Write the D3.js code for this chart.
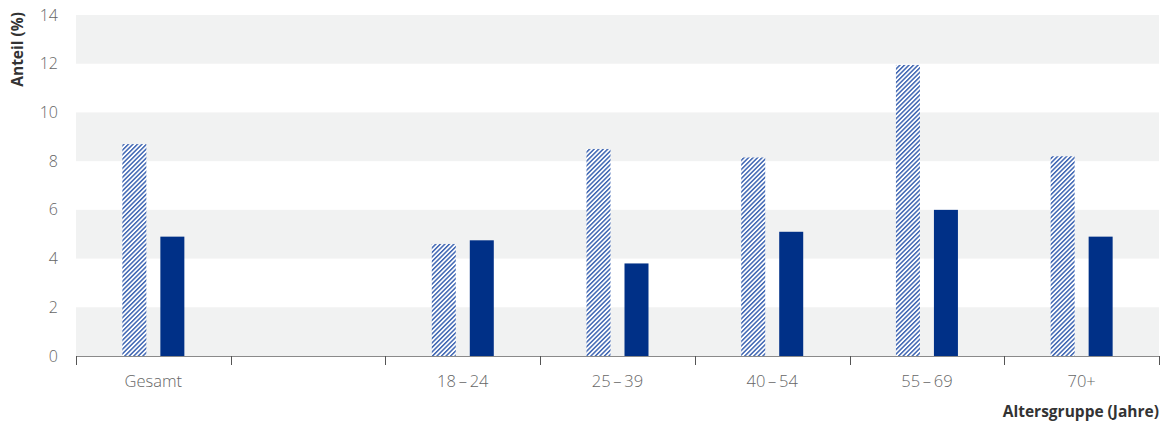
<!DOCTYPE html>
<html><head><meta charset="utf-8">
<script src="https://cdn.jsdelivr.net/npm/d3@7"></script>
<style>body{margin:0;background:#fff;} text{font-family:"Open Sans",Lato,sans-serif;}</style>
</head><body><svg id="c" width="1170" height="425"></svg>
<script>
const categories = ["Gesamt", "", "18\u2009–\u200924", "25\u2009–\u200939", "40\u2009–\u200954", "55\u2009–\u200969", "70+"];
const seriesA = [8.7, null, 4.6, 8.5, 8.15, 11.95, 8.2];
const seriesB = [4.9, null, 4.75, 3.8, 5.1, 6.0, 4.9];
const yTicks = [0, 2, 4, 6, 8, 10, 12, 14];

const svg = d3.select("#c");
const m = {l: 76, r: 1159, t: 15, b: 356};
const x = d3.scaleBand().domain(d3.range(categories.length)).range([m.l, m.r]);
const y = d3.scaleLinear().domain([0, 14]).range([m.b, m.t]);

const defs = svg.append("defs");
const pat = defs.append("pattern").attr("id", "hatch").attr("patternUnits", "userSpaceOnUse")
  .attr("width", 3.2).attr("height", 3.2).attr("patternTransform", "rotate(45)");
pat.append("rect").attr("width", 3.2).attr("height", 3.2).attr("fill", "#fff");
pat.append("rect").attr("width", 1.5).attr("height", 3.2).attr("fill", "#3f66b3");

// bands
for (let i = 0; i < yTicks.length - 1; i += 2) {
  svg.append("rect").attr("x", m.l).attr("width", m.r - m.l)
    .attr("y", y(yTicks[i + 1])).attr("height", y(yTicks[i]) - y(yTicks[i + 1]))
    .attr("fill", "#f1f2f2");
}

// y labels
svg.append("g").selectAll("text").data(yTicks).join("text")
  .attr("x", 58).attr("y", d => y(d)).attr("dy", "0.35em").attr("text-anchor", "end")
  .attr("font-size", 16).attr("font-weight", 300).attr("fill", "#666").text(d => d);

svg.append("text").attr("transform", "translate(23,12) rotate(-90)").attr("text-anchor", "end")
  .attr("font-size", 15.5).attr("font-weight", 700).attr("fill", "#333").text("Anteil (%)");

const off = 19, bw = 24;
const cx = i => x(i) + x.bandwidth() / 2;
svg.append("g").selectAll("rect").data(seriesA.map((v, i) => ({v, i})).filter(d => d.v != null)).join("rect")
  .attr("x", d => cx(d.i) - off - bw / 2).attr("width", bw)
  .attr("y", d => y(d.v)).attr("height", d => y(0) - y(d.v)).attr("fill", "url(#hatch)");
svg.append("g").selectAll("rect").data(seriesB.map((v, i) => ({v, i})).filter(d => d.v != null)).join("rect")
  .attr("x", d => cx(d.i) + off - bw / 2).attr("width", bw)
  .attr("y", d => y(d.v)).attr("height", d => y(0) - y(d.v)).attr("fill", "#003087");

// x axis
const ax = svg.append("g");
ax.append("line").attr("x1", m.l).attr("x2", m.r).attr("y1", m.b + 0.5).attr("y2", m.b + 0.5)
  .attr("stroke", "#8a8a8a").attr("stroke-width", 1.2);
const bounds = d3.range(categories.length + 1).map(i => i < categories.length ? x(i) : m.r);
ax.selectAll("line.t").data(bounds).join("line").attr("class", "t")
  .attr("x1", d => Math.round(d) + 0.5).attr("x2", d => Math.round(d) + 0.5)
  .attr("y1", m.b).attr("y2", m.b + 9).attr("stroke", "#555").attr("stroke-width", 1);
ax.selectAll("text").data(categories).join("text")
  .attr("x", (d, i) => cx(i)).attr("y", 387).attr("text-anchor", "middle")
  .attr("font-size", 16.5).attr("font-weight", 300).attr("fill", "#666").text(d => d);

svg.append("text").attr("x", 1159).attr("y", 417).attr("text-anchor", "end")
  .attr("font-size", 15.5).attr("font-weight", 700).attr("fill", "#333").text("Altersgruppe (Jahre)");
</script></body></html>
